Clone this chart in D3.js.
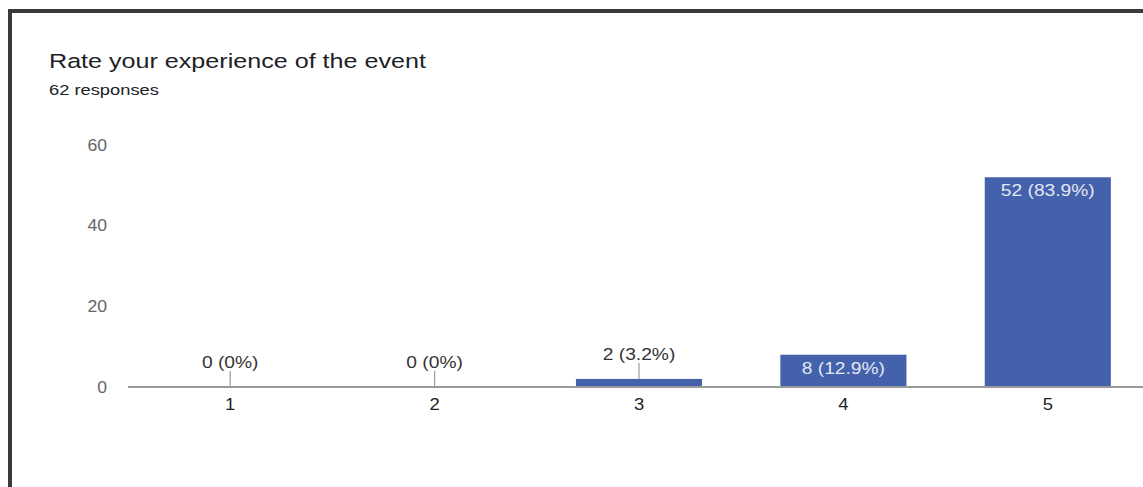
<!DOCTYPE html>
<html>
<head>
<meta charset="utf-8">
<script src="https://cdn.jsdelivr.net/npm/d3@7"></script>
<style>
  html,body{margin:0;padding:0;background:#fff;}
  svg{display:block;}
  text{font-family:"Liberation Sans",Arial,sans-serif;}
</style>
</head>
<body>
<svg width="1143" height="487"></svg>
<script>
// chart data
var title = "Rate your experience of the event";
var subtitle = "62 responses";
var total = 62;
var categories = ["1", "2", "3", "4", "5"];
var counts = [0, 0, 2, 8, 52];
var yTicks = [0, 20, 40, 60];

// scan is a bit wider than the font, stretch text a little
var stretch = function(sel, k){
	sel.each(function(){
		var w = this.getComputedTextLength();
		d3.select(this).attr("textLength", w * k).attr("lengthAdjust", "spacingAndGlyphs");
	});
};

var label = function(v){
	var p = Math.round(v / total * 1000) / 10;
	return v + " (" + p + "%)";
};

var svg = d3.select("svg");

// frame of the scanned card
svg.append("path")
	.attr("d", "M8,11H1143M10,9V487")
	.attr("fill", "none")
	.attr("stroke", "#3a3a3a")
	.attr("stroke-width", 4);

// titles
svg.append("text")
	.attr("x", 49).attr("y", 68)
	.attr("font-family", "Roboto, sans-serif")
	.attr("font-size", 20.5)
	.attr("fill", "#202124")
	.text(title)
	.call(stretch, 1.225);

svg.append("text")
	.attr("x", 49).attr("y", 95)
	.attr("font-size", 15)
	.attr("fill", "#202124")
	.text(subtitle)
	.call(stretch, 1.22);

// scales
var x = d3.scaleBand()
	.domain(categories)
	.range([128, 1150])
	.paddingInner(0.383)
	.paddingOuter(0.1915);

var y = d3.scaleLinear()
	.domain([0, 60])
	.range([387, 145]);

var data = categories.map(function(c, i){ return {cat: c, v: counts[i]}; });

// y axis labels
var gy = svg.append("g")
	.attr("transform", "translate(113,0)")
	.call(d3.axisLeft(y).tickValues(yTicks).tickSize(0).tickPadding(6));
gy.select(".domain").remove();
gy.selectAll("text")
	.attr("font-size", 16)
	.attr("font-family", "'Liberation Sans', Arial, sans-serif")
	.attr("fill", "#666")
	.call(stretch, 1.1);

// bars
svg.selectAll(".bar")
	.data(data)
	.enter().append("rect")
	.attr("class", "bar")
	.attr("x", function(d){ return x(d.cat); })
	.attr("y", function(d){ return y(d.v); })
	.attr("width", x.bandwidth())
	.attr("height", function(d){ return y(0) - y(d.v); })
	.attr("fill", "#4462ac");

// baseline
svg.append("line")
	.attr("x1", 128).attr("x2", 1143)
	.attr("y1", y(0)).attr("y2", y(0))
	.attr("stroke", "#9a9a9a")
	.attr("stroke-width", 2);

// x axis labels
var gx = svg.append("g")
	.attr("transform", "translate(0," + y(0) + ")")
	.call(d3.axisBottom(x).tickSize(0).tickPadding(12));
gx.select(".domain").remove();
gx.selectAll("text")
	.attr("font-size", 16)
	.attr("font-family", "'Liberation Sans', Arial, sans-serif")
	.attr("fill", "#222")
	.call(stretch, 1.15);

// value labels: inside tall bars, above small ones with a leader
var inside = function(d){ return y(0) - y(d.v) > 25; };

svg.selectAll(".lead")
	.data(data.filter(function(d){ return !inside(d); }))
	.enter().append("line")
	.attr("class", "lead")
	.attr("x1", function(d){ return x(d.cat) + x.bandwidth() / 2; })
	.attr("x2", function(d){ return x(d.cat) + x.bandwidth() / 2; })
	.attr("y1", function(d){ return y(d.v) - 16; })
	.attr("y2", function(d){ return y(d.v); })
	.attr("stroke", "#999")
	.attr("stroke-width", 1.2);

svg.selectAll(".val")
	.data(data)
	.enter().append("text")
	.attr("class", "val")
	.attr("x", function(d){ return x(d.cat) + x.bandwidth() / 2; })
	.attr("y", function(d){ return inside(d) ? y(d.v) + 19 : y(d.v) - 19; })
	.attr("text-anchor", "middle")
	.attr("font-size", 16)
	.attr("fill", function(d){ return inside(d) ? "#e3e7f2" : "#333"; })
	.text(function(d){ return label(d.v); })
	.call(stretch, 1.2);
</script>
</body>
</html>
